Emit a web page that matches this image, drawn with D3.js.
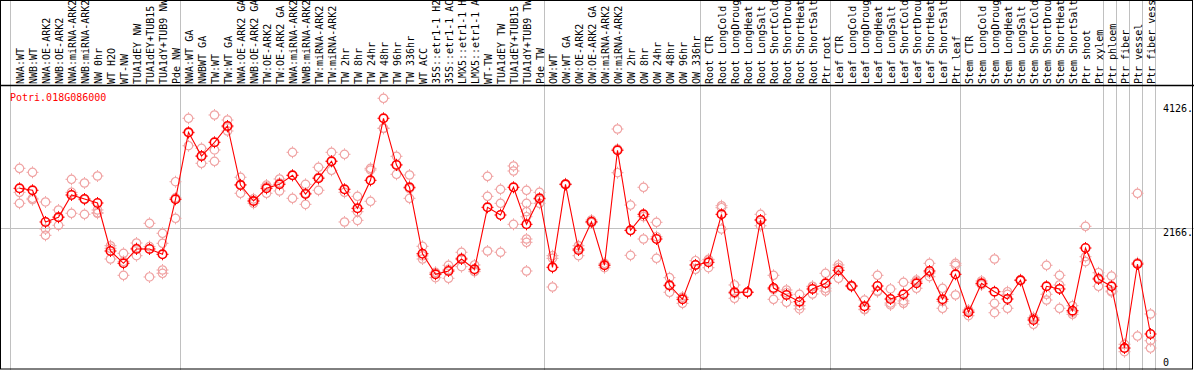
<!DOCTYPE html>
<html>
<head>
<meta charset="utf-8">
<script src="https://cdn.jsdelivr.net/npm/d3@7"></script>
<style>
  body { margin: 0; background: #fff; }
  svg text { font-family: "DejaVu Sans Mono", monospace; font-size: 10px; }
</style>
</head>
<body>
<div id="chart-area"></div>
<script>

// sample names, one per column (as far as they show above the plot)
var labels = [
  "NWA:WT", "NWB:WT", "NWA:OE-ARK2", "NWB:OE-ARK2", "NWA:miRNA-ARK2", "NWB:miRNA-ARK2",
  "NW 0hr", "WT H2O", "WT-NW", "TUA1dEY NW", "TUA1dEY+TUB15", "TUA1dY+TUB9 NW", "Pde NW",
  "NWA:WT GA", "NWBWT GA", "TW:WT", "TW:WT GA", "NWA:OE-ARK2 GA", "NWB:OE-ARK2 GA",
  "TW:OE-ARK2", "TW:OE-ARK2 GA", "NWA:miRNA-ARK2", "NWB:miRNA-ARK2", "TW:miRNA-ARK2",
  "TW:miRNA-ARK2", "TW 2hr", "TW 8hr", "TW 24hr", "TW 48hr", "TW 96hr", "TW 336hr", "WT ACC",
  "35S::etr1-1 H2", "35S::etr1-1 AC", "LMX5::etr1-1 H", "LMX5::etr1-1 A", "WT-TW",
  "TUA1dEY TW", "TUA1dEY+TUB15", "TUA1dY+TUB9 TW", "Pde TW",
  "OW:WT", "OW:WT GA", "OW:OE-ARK2", "OW:OE-ARK2 GA", "OW:miRNA-ARK2", "OW:miRNA-ARK2",
  "OW 2hr", "OW 8hr", "OW 24hr", "OW 48hr", "OW 96hr", "OW 336hr",
  "Root CTR", "Root LongCold", "Root LongDroug", "Root LongHeat", "Root LongSalt",
  "Root ShortCold", "Root ShortDrou", "Root ShortHeat", "Root ShortSalt", "Ptr root",
  "Leaf CTR", "Leaf LongCold", "Leaf LongDroug", "Leaf LongHeat", "Leaf LongSalt",
  "Leaf ShortCold", "Leaf ShortDrou", "Leaf ShortHeat", "Leaf ShortSalt", "Ptr leaf",
  "Stem CTR", "Stem LongCold", "Stem LongDroug", "Stem LongHeat", "Stem LongSalt",
  "Stem ShortCold", "Stem ShortDrou", "Stem ShortHeat", "Stem ShortSalt", "Ptr shoot",
  "Ptr xylem", "Ptr phloem", "Ptr fiber", "Ptr vessel", "Ptr fiber vess"
]

// mean expression per sample
var means = [
  2798, 2767, 2268, 2342, 2693, 2630, 2567, 1811, 1617, 1843, 1843, 1759, 2625,
  3680, 3307, 3523, 3780, 2850, 2598, 2798, 2861, 3003, 2709, 2956, 3224, 2783,
  2483, 2924, 3901, 3165, 2814, 1768, 1444, 1496, 1685, 1523, 2499, 2378, 2814,
  2231, 2641,
  1554, 2861, 1827, 2272, 1586, 3397, 2137, 2389, 2000, 1271, 1050, 1591,
  1633, 2389, 1161, 1161, 2299, 1228, 1118, 1013, 1213, 1302,
  1507, 1260, 940, 1260, 1055, 1129, 1302, 1496, 1050, 1444,
  846, 1302, 1170, 1055, 1350, 724, 1255, 1213, 871, 1858, 1370,
  1255, 283, 1606, 504
]

// biological replicates per sample
var reps = [
  [3113, 2735, 2562], [3050, 2641, 2619], [2583, 2157, 2058], [2457, 2216, 2350],
  [2940, 2405, 2734], [2882, 2389, 2619], [2992, 2457, 2405, 2414], [1894, 1685, 1854],
  [1775, 1428, 1648], [1937, 1737, 1855], [2247, 1402, 1880], [2090, 1932, 1512, 1460],
  [2902, 2326, 2647],
  [3901, 3469, 3670], [3428, 3192, 3301], [3953, 3402, 3224], [3874, 3701, 3765],
  [2972, 2720, 2858], [2562, 2600, 2632], [2850, 2720, 2824], [2945, 2756, 2882],
  [3365, 2641, 3003], [2861, 2546, 2720], [3129, 2767, 2972], [3365, 3082, 3225],
  [3334, 2735, 2268], [2672, 2430, 2294], [3113, 3087, 2594], [4216, 3743, 3744],
  [3302, 3019, 3174], [3008, 2641, 2793], [1885, 1685, 1734], [1476, 1391, 1465],
  [1586, 1381, 1521], [1791, 1564, 1700], [1591, 1485, 1493], [2987, 2672, 1811],
  [2783, 2562, 1791], [3150, 3071, 2231],
  [2767, 2562, 2430, 2351, 2000, 1948, 1496], [2735, 2562, 2626],
  [1737, 1696, 1244], [2870, 2855, 2858], [1894, 1737, 1850], [2299, 2260, 2257],
  [1617, 1548, 1593], [3732, 3044, 3415], [2535, 1743, 2133], [2814, 2000, 2353],
  [2263, 2036, 1696], [1391, 1161, 1261], [987, 1080, 1083], [1658, 1523, 1592],
  [1680, 1548, 1671], [2524, 2493, 2157], [1276, 1066, 1141], [1165, 1158, 1160],
  [2389, 2209, 2299], [1428, 1050, 1206], [1197, 1003, 1154], [1129, 950, 898],
  [1249, 1134, 1256], [1460, 1224, 1181],
  [1591, 1381, 1549], [1270, 1250, 1260], [1039, 887, 894], [1428, 1170, 1182],
  [1213, 961, 991], [1318, 1024, 987], [1354, 1224, 1328], [1617, 1406, 1465],
  [1224, 909, 1017], [1617, 1586, 1118],
  [882, 792, 864], [1339, 1276, 1291], [1685, 987, 839], [1170, 1129, 909],
  [1360, 1345, 1350], [751, 657, 764], [1586, 1129, 1039], [1428, 1276, 909],
  [950, 814, 849], [2200, 1721, 1643], [1469, 1255, 1386],
  [1417, 1181, 1167], [342, 225, 282], [2720, 472, 1626], [819, 398, 283]
]

// column index where each tissue group starts
var groupStarts = [0, 13, 41, 53, 63, 73, 84, 85, 86, 87, 88]

var tickValues = [0, 2166, 4126]
var tickLabels = ["0", "2166.", "4126."]

var geneName = "Potri.018G086000"

var width = 1194,
    height = 370

var svg = d3.select("#chart-area").append("svg")
    .attr("width", width)
    .attr("height", height)

var x = d3.scaleLinear()
  .domain([0, labels.length - 1])
  .range([19.5, 19.5 + 13 * (labels.length - 1)])

var y = d3.scaleLinear()
  .domain([0, 4126])
  .range([366, 104])

// group separators
svg.selectAll("line.sep")
  .data(groupStarts)
  .enter().append("line")
    .attr("class", "sep")
    .attr("x1", function(d) { return d == 0 ? 10.5 : x(d) - 8 })
    .attr("x2", function(d) { return d == 0 ? 10.5 : x(d) - 8 })
    .attr("y1", 0)
    .attr("y2", height)
    .attr("stroke", "#c0c0c0")

// horizontal reference line at middle tick
svg.append("line")
  .attr("x1", 0)
  .attr("x2", width)
  .attr("y1", Math.floor(y(2166)) + 0.5)
  .attr("y2", Math.floor(y(2166)) + 0.5)
  .attr("stroke", "#c0c0c0")

// frame
svg.append("rect")
  .attr("x", 0.5)
  .attr("y", 0.5)
  .attr("width", 1192)
  .attr("height", 368.5)
  .attr("fill", "none")
  .attr("stroke", "#000")

svg.append("line")
  .attr("x1", 0)
  .attr("x2", width)
  .attr("y1", 85.5)
  .attr("y2", 85.5)
  .attr("stroke", "#000")
  .attr("stroke-width", 1.3)

// rotated sample labels
svg.selectAll("text.sample")
  .data(labels)
  .enter().append("text")
    .attr("class", "sample")
    .attr("transform", function(d, i) { return "translate(" + (x(i) + 4) + ",84) rotate(-90)" })
    .attr("fill", "#000")
    .text(function(d) { return d })

svg.append("text")
  .attr("x", 10)
  .attr("y", 101)
  .attr("fill", "red")
  .text(geneName)

// value labels on the right
svg.selectAll("text.tick")
  .data(tickValues)
  .enter().append("text")
    .attr("class", "tick")
    .attr("x", 1163)
    .attr("y", function(d) { return d == 0 ? y(d) - 0.5 : y(d) + 7.5 })
    .attr("fill", "#000")
    .text(function(d, i) { return tickLabels[i] })

// circle with little ticks at the four sides
function marker(sel, color, sw) {
  sel.append("circle")
    .attr("r", 4.2)
    .attr("fill", "none")
    .attr("stroke", color)
    .attr("stroke-width", sw)
  sel.append("path")
    .attr("d", "M0,-4.5V-6M0,4.5V6M-4.5,0H-6M4.5,0H6")
    .attr("stroke", color)
    .attr("stroke-width", 1)
}

var repPoints = []
reps.forEach(function(r, i) {
  r.forEach(function(v) { repPoints.push({ i: i, v: v }) })
})

svg.selectAll("g.rep")
  .data(repPoints)
  .enter().append("g")
    .attr("class", "rep")
    .attr("transform", function(d) { return "translate(" + x(d.i) + "," + y(d.v) + ")" })
    .call(marker, "#f0a4a4", 1.2)

var line = d3.line()
  .x(function(d, i) { return x(i) })
  .y(function(d) { return y(d) })

svg.append("path")
  .datum(means)
  .attr("d", line)
  .attr("fill", "none")
  .attr("stroke", "red")
  .attr("stroke-width", 1.1)

svg.selectAll("g.mean")
  .data(means)
  .enter().append("g")
    .attr("class", "mean")
    .attr("transform", function(d, i) { return "translate(" + x(i) + "," + y(d) + ")" })
    .call(marker, "red", 1.6)

</script>
</body>
</html>
